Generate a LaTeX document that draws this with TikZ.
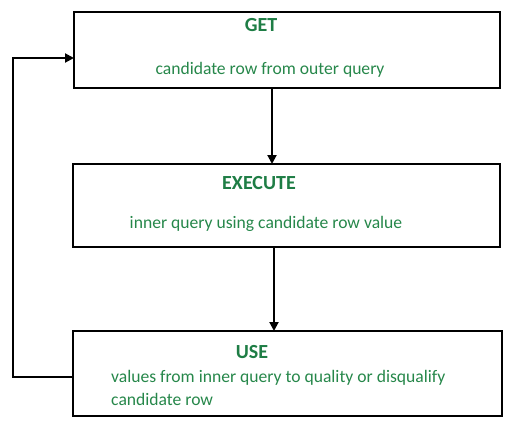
\documentclass[tikz,border=0pt]{standalone}
\usepackage{fontspec}
\setmainfont{Carlito}
\usetikzlibrary{arrows.meta}
\definecolor{ggreen}{HTML}{26874A}
\definecolor{hgreen}{HTML}{1E7D45}
\begin{document}
\begin{tikzpicture}[x=1pt,y=-1pt,
  box/.style={draw=black, line width=2.4pt},
  head/.style={text=hgreen, font=\fontsize{20}{24}\selectfont\bfseries, anchor=center, inner sep=0pt},
  body/.style={text=ggreen, font=\fontsize{17.6}{23}\selectfont, inner sep=0pt},
  conn/.style={draw=black, line width=2pt, -{Triangle[length=9pt,width=9pt]}}]
\useasboundingbox (0,0) rectangle (514,424);
\draw[box] (74,12) rectangle (500,88);
\coordinate (getL) at (74,58);
\coordinate (getB) at (272,88);
\draw[box] (73,164) rectangle (500,247);
\coordinate (exT) at (272,164);
\coordinate (exB) at (274,247);
\draw[box] (73,331) rectangle (502,416);
\coordinate (useT) at (274,331);
\coordinate (useL) at (73,377);
\node[head] (h1) at (261,25) {GET};
\node[body] (t1) at (270,70) {candidate row from outer query};
\node[head] (h2) at (259,183) {EXECUTE};
\node[body] (t2) at (266,224) {inner query using candidate row value};
\node[head] (h3) at (252,352) {USE};
\node[body, anchor=west, align=left] (t3) at (111,388) {values from inner query to quality or disqualify\\candidate row};
\draw[conn] (getB) -- (exT);
\draw[conn] (exB) -- (useT);
\draw[conn] (useL) -- (13,377) -- (13,58) -- (getL);
\end{tikzpicture}
\end{document}
